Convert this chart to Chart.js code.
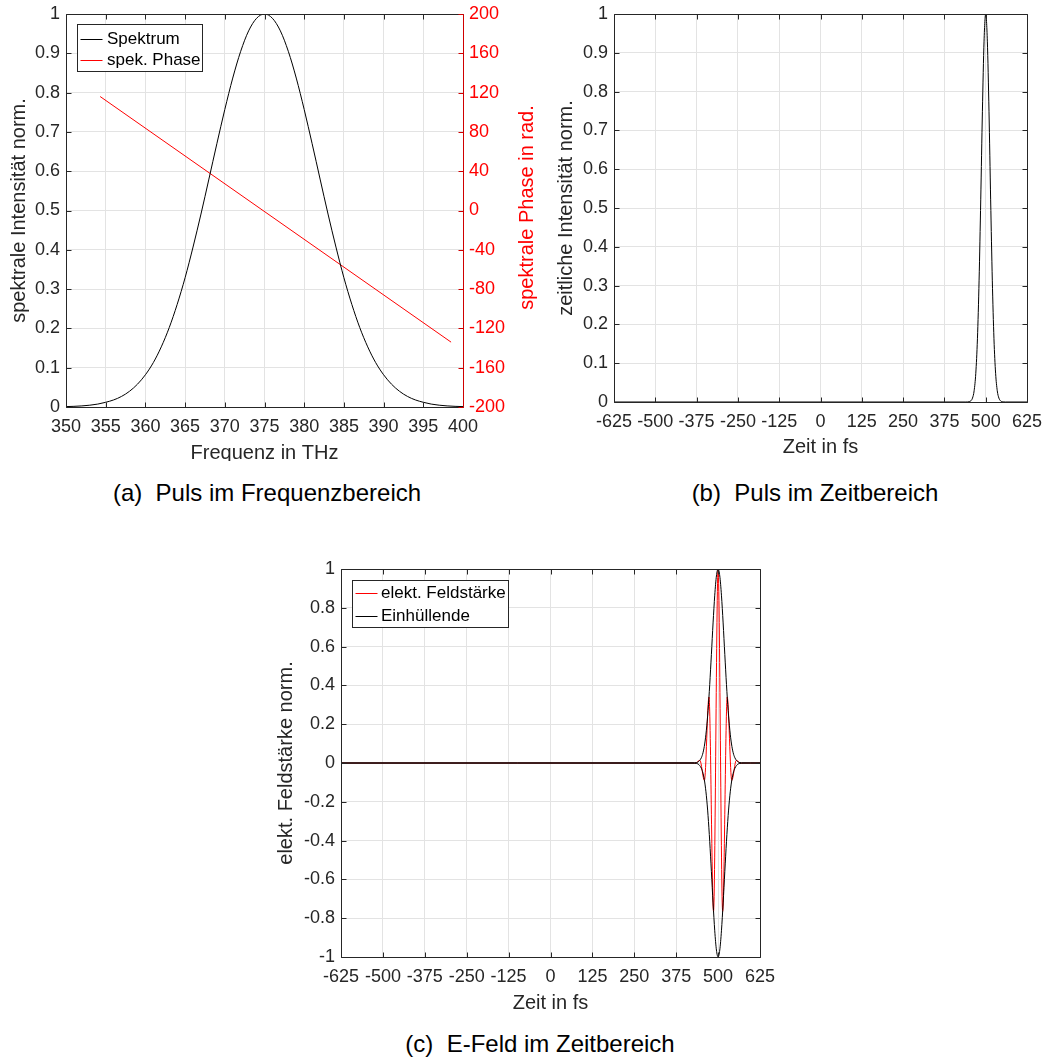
<!DOCTYPE html>
<html>
<head>
<meta charset="utf-8">
<script src="https://cdn.jsdelivr.net/npm/chart.js@4.4.1/dist/chart.umd.min.js"></script>
<style>
    body {
        margin: 0;
        background: #fff;
        width: 1051px;
        height: 1059px;
        position: relative;
        overflow: hidden;
        font-family: "Liberation Sans", Arial, Helvetica, sans-serif;
    }
    .panel { position: absolute; }
    .caption {
        position: absolute;
        font-size: 24px;
        line-height: 24px;
        color: #000;
        white-space: pre;
        transform: translateX(-50%);
    }
</style>
</head>
<body>

<canvas id="chartA" class="panel" width="545" height="470" style="left:0;top:0"></canvas>
<div style="position:absolute;left:0;top:461px;width:540px;height:9px;background:#fff"></div>
<canvas id="chartB" class="panel" width="511" height="470" style="left:540px;top:0"></canvas>
<canvas id="chartC" class="panel" width="520" height="470" style="left:260px;top:550px"></canvas>

<div class="caption" style="left:267px;top:481px">(a)  Puls im Frequenzbereich</div>
<div class="caption" style="left:815px;top:481px">(b)  Puls im Zeitbereich</div>
<div class="caption" style="left:540px;top:1032px">(c)  E-Feld im Zeitbereich</div>

<script>
// --- data ---

// (a) spectrum
const freqTHz = [350, 351, 352, 353, 354, 355, 356, 357, 358, 359,
    360, 361, 362, 363, 364, 365, 366, 367, 368, 369,
    370, 371, 372, 373, 374, 375, 376, 377, 378, 379,
    380, 381, 382, 383, 384, 385, 386, 387, 388, 389,
    390, 391, 392, 393, 394, 395, 396, 397, 398, 399, 400];
const spectrum = [0.001, 0.0017, 0.0028, 0.0046, 0.0074, 0.012, 0.018, 0.027, 0.040, 0.058,
    0.082, 0.113, 0.153, 0.202, 0.261, 0.329, 0.407, 0.491, 0.580, 0.670,
    0.757, 0.837, 0.905, 0.957, 0.989, 1, 0.989, 0.957, 0.905, 0.837,
    0.757, 0.670, 0.580, 0.491, 0.407, 0.329, 0.261, 0.202, 0.153, 0.113,
    0.082, 0.058, 0.040, 0.027, 0.018, 0.012, 0.0074, 0.0046, 0.0028, 0.0017, 0.001];
const phaseFreqTHz = [354.3, 398.5];
const phaseRad = [116, -134];

// (b) temporal intensity
const timeFs = [-625, 440, 445, 450, 455, 460, 465, 470, 475, 480, 485, 490, 495,
    500, 505, 510, 515, 520, 525, 530, 535, 540, 545, 550, 555, 560, 625];
const intensity = [0, 0, 0.0002, 0.0007, 0.003, 0.010, 0.029, 0.074, 0.163, 0.314, 0.521, 0.748, 0.930,
    1, 0.930, 0.748, 0.521, 0.314, 0.163, 0.074, 0.029, 0.010, 0.003, 0.0007, 0.0002, 0, 0];

// (c) field and envelope
const fieldTimeFs = [-625, 425, 431.9, 445.6, 459.2, 472.8, 486.4, 500, 513.6, 527.2, 540.8, 554.4, 568.1, 575, 625];
const field = [0, 0, -0.001, 0.014, -0.09, 0.34, -0.765, 1, -0.765, 0.34, -0.09, 0.014, -0.001, 0, 0];
const envTimeFs = [-625, 430, 435, 440, 445, 450, 455, 460, 465, 470, 475, 480, 485, 490, 495,
    500, 505, 510, 515, 520, 525, 530, 535, 540, 545, 550, 555, 560, 565, 570, 625];
const envUpper = [0, 0.001, 0.002, 0.005, 0.013, 0.027, 0.053, 0.098, 0.169, 0.271, 0.404, 0.560, 0.722, 0.865, 0.964,
    1, 0.964, 0.865, 0.722, 0.560, 0.404, 0.271, 0.169, 0.098, 0.053, 0.027, 0.013, 0.005, 0.002, 0.001, 0];
const envLower = [0, -0.001, -0.002, -0.005, -0.013, -0.027, -0.053, -0.098, -0.169, -0.271, -0.404, -0.560, -0.722, -0.865, -0.964,
    -1, -0.964, -0.865, -0.722, -0.560, -0.404, -0.271, -0.169, -0.098, -0.053, -0.027, -0.013, -0.005, -0.002, -0.001, 0];

// tick labels
const freqTicks = [350, 355, 360, 365, 370, 375, 380, 385, 390, 395, 400];
const unitTicks = [0, 0.1, 0.2, 0.3, 0.4, 0.5, 0.6, 0.7, 0.8, 0.9, 1];
const phaseTicks = [-200, -160, -120, -80, -40, 0, 40, 80, 120, 160, 200];
const timeTicks = [-625, -500, -375, -250, -125, 0, 125, 250, 375, 500, 625];
const fieldTicks = [-1, -0.8, -0.6, -0.4, -0.2, 0, 0.2, 0.4, 0.6, 0.8, 1];

// --- look ---
const FONT = '"Liberation Sans", Arial, Helvetica, sans-serif';
const TXT = "#262626";
const GRID = "#e3e3e3";
const RED = "#ff0000";

const xy = (xs, ys) => xs.map((x, i) => ({ x, y: ys[i] }));
const useTicks = list => s => { s.ticks = list.map(v => ({ value: v })); };
const fixedWidth = w => s => { s.width = w; s.paddingTop = 0; s.paddingBottom = 0; };
const fixedHeight = h => s => { s.height = h; s.paddingLeft = 0; s.paddingRight = 0; };

// box with inward ticks on all four sides, like the MATLAB axes
const matlabFrame = {
    id: "matlabFrame",
    afterDatasetsDraw(chart, args, opts) {
        const { ctx, chartArea: a, scales } = chart;
        const len = 5;
        const px = v => Math.round(v) + 0.5;
        const L = px(a.left), R = px(a.right), T = px(a.top), B = px(a.bottom);

        ctx.save();
        ctx.lineWidth = 1;
        ctx.strokeStyle = TXT;
        ctx.beginPath();
        scales.x.ticks.forEach(t => {
            const x = px(scales.x.getPixelForValue(t.value));
            ctx.moveTo(x, B); ctx.lineTo(x, B - len);
            ctx.moveTo(x, T); ctx.lineTo(x, T + len);
        });
        scales.y.ticks.forEach(t => {
            const y = px(scales.y.getPixelForValue(t.value));
            ctx.moveTo(L, y); ctx.lineTo(L + len, y);
            if (!scales.y2) { ctx.moveTo(R, y); ctx.lineTo(R - len, y); }
        });
        ctx.moveTo(L, T); ctx.lineTo(L, B); ctx.lineTo(R, B);
        ctx.moveTo(L, T); ctx.lineTo(R, T);
        if (!scales.y2) ctx.lineTo(R, B);
        ctx.stroke();

        if (scales.y2) {
            ctx.strokeStyle = opts.rightColor || RED;
            ctx.beginPath();
            scales.y2.ticks.forEach(t => {
                const y = px(scales.y2.getPixelForValue(t.value));
                ctx.moveTo(R, y); ctx.lineTo(R - len, y);
            });
            ctx.moveTo(R, T); ctx.lineTo(R, B);
            ctx.stroke();
        }
        ctx.restore();
    }
};

// legend box inside the plot area
const boxLegend = {
    id: "boxLegend",
    afterDraw(chart, args, o) {
        if (!o.w) return;
        const { ctx, chartArea: a } = chart;
        const items = chart.data.datasets.filter(d => d.label);
        const left = Math.round(a.left + o.dx) + 0.5;
        const top = Math.round(a.top + o.dy) + 0.5;

        ctx.save();
        ctx.fillStyle = "#fff";
        ctx.fillRect(left, top, o.w, o.h);
        ctx.lineWidth = 1;
        ctx.strokeStyle = TXT;
        ctx.strokeRect(left, top, o.w, o.h);
        ctx.font = "17px " + FONT;
        ctx.textBaseline = "middle";
        items.forEach((d, i) => {
            const y = Math.round(top + o.row0 + i * o.rowGap) + 0.5;
            ctx.strokeStyle = d.borderColor;
            ctx.beginPath();
            ctx.moveTo(left + 3, y);
            ctx.lineTo(left + 25, y);
            ctx.stroke();
            ctx.fillStyle = "#000";
            ctx.fillText(d.label, left + o.tx, y);
        });
        ctx.restore();
    }
};

// right axis title reading bottom-to-top
const sideTitle = {
    id: "sideTitle",
    afterDraw(chart, args, o) {
        if (!o.text) return;
        const { ctx, chartArea: a } = chart;
        ctx.save();
        ctx.translate(o.x, (a.top + a.bottom) / 2 - 3);
        ctx.rotate(-Math.PI / 2);
        ctx.font = o.size + "px " + FONT;
        ctx.fillStyle = o.color;
        ctx.textAlign = "center";
        ctx.textBaseline = "middle";
        ctx.fillText(o.text, 0, 0);
        ctx.restore();
    }
};

function axisX(min, max, ticks, height, title, titlePad) {
    return {
        type: "linear",
        min, max,
        afterBuildTicks: useTicks(ticks),
        afterFit: fixedHeight(height),
        grid: { color: GRID, drawTicks: false },
        border: { display: false },
        ticks: {
            autoSkip: false, maxRotation: 0, padding: 9, color: TXT,
            font: { family: FONT, size: 18 },
            callback: v => String(v)
        },
        title: {
            display: true, text: title, color: TXT,
            font: { family: FONT, size: 20 },
            padding: { top: 0, bottom: titlePad }
        }
    };
}

function axisY(min, max, ticks, width, title, titlePad) {
    return {
        position: "left",
        min, max,
        afterBuildTicks: useTicks(ticks),
        afterFit: fixedWidth(width),
        grid: { color: GRID, drawTicks: false },
        border: { display: false },
        ticks: {
            padding: 6, color: TXT,
            font: { family: FONT, size: 18 },
            callback: v => String(v)
        },
        title: {
            display: true, text: title, color: TXT,
            font: { family: FONT, size: 20 },
            padding: { top: titlePad, bottom: 0 }
        }
    };
}

function line(label, xs, ys, color, extra) {
    return Object.assign({
        label,
        data: xy(xs, ys),
        borderColor: color,
        borderWidth: 1,
        pointRadius: 0,
        fill: false,
        cubicInterpolationMode: "monotone"
    }, extra || {});
}

const common = {
    responsive: false,
    animation: false,
    events: [],
    parsing: true
};

// (a) Puls im Frequenzbereich
new Chart(document.getElementById("chartA"), {
    type: "line",
    data: {
        datasets: [
            line("Spektrum", freqTHz, spectrum, "#000", { yAxisID: "y", order: 0 }),
            line("spek. Phase", phaseFreqTHz, phaseRad, RED, { yAxisID: "y2", order: 1, cubicInterpolationMode: "default" })
        ]
    },
    options: Object.assign({}, common, {
        layout: { padding: { top: 14, right: 0, bottom: 0, left: 0 }, autoPadding: false },
        plugins: {
            legend: { display: false },
            tooltip: { enabled: false },
            matlabFrame: { rightColor: "#d00000" },
            boxLegend: { dx: 10.7, dy: 10.3, w: 125, h: 47, row0: 14, rowGap: 21.7, tx: 29.5 },
            sideTitle: { text: "spektrale Phase in rad.", x: 527, size: 20, color: RED }
        },
        scales: {
            x: axisX(350, 400, freqTicks, 63, "Frequenz in THz", 5),
            y: axisY(0, 1, unitTicks, 66, "spektrale Intensität norm.", 7),
            y2: {
                position: "right",
                min: -200, max: 200,
                afterBuildTicks: useTicks(phaseTicks),
                afterFit: fixedWidth(82),
                grid: { display: false, drawTicks: false },
                border: { display: false },
                ticks: {
                    padding: 6, color: RED,
                    font: { family: FONT, size: 18 },
                    callback: v => String(v)
                }
            }
        }
    }),
    plugins: [matlabFrame, boxLegend, sideTitle]
});

// (b) Puls im Zeitbereich
new Chart(document.getElementById("chartB"), {
    type: "line",
    data: {
        datasets: [
            line("", timeFs, intensity, "#000")
        ]
    },
    options: Object.assign({}, common, {
        layout: { padding: { top: 14, right: 24, bottom: 0, left: 0 }, autoPadding: false },
        plugins: {
            legend: { display: false },
            tooltip: { enabled: false }
        },
        scales: {
            x: axisX(-625, 625, timeTicks, 68, "Zeit in fs", 11),
            y: axisY(0, 1, unitTicks, 74, "zeitliche Intensität norm.", 14.7)
        }
    }),
    plugins: [matlabFrame]
});

// (c) E-Feld im Zeitbereich
new Chart(document.getElementById("chartC"), {
    type: "line",
    data: {
        datasets: [
            line("elekt. Feldstärke", fieldTimeFs, field, RED, { order: 2 }),
            line("Einhüllende", envTimeFs, envUpper, "#000", { order: 0 }),
            line("", envTimeFs, envLower, "#000", { order: 1 })
        ]
    },
    options: Object.assign({}, common, {
        layout: { padding: { top: 19, right: 20, bottom: 0, left: 0 }, autoPadding: false },
        plugins: {
            legend: { display: false },
            tooltip: { enabled: false },
            boxLegend: { dx: 10.7, dy: 11, w: 156, h: 47, row0: 12.7, rowGap: 22.3, tx: 28.5 }
        },
        scales: {
            x: axisX(-625, 625, timeTicks, 63, "Zeit in fs", 5),
            y: axisY(-1, 1, fieldTicks, 81, "elekt. Feldstärke norm.", 14.7)
        }
    }),
    plugins: [matlabFrame, boxLegend]
});
</script>
</body>
</html>
